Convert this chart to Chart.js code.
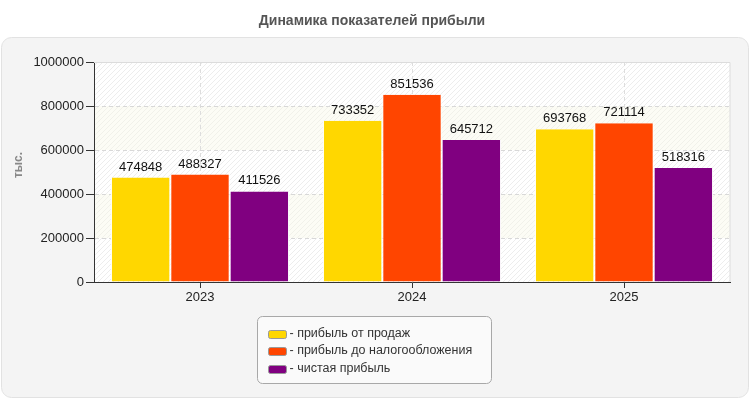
<!DOCTYPE html>
<html lang="ru">
<head>
<meta charset="utf-8">
<title>Динамика показателей прибыли</title>
<script src="https://cdn.jsdelivr.net/npm/chart.js@4.4.1/dist/chart.umd.min.js"></script>
<style>
  html, body { margin: 0; padding: 0; background: #fff; }
  #wrap { width: 750px; height: 400px; position: relative; }
</style>
</head>
<body>
<div id="wrap"><canvas id="profitChart"></canvas></div>
<script>
"use strict";

// --- Данные ------------------------------------------------------------------

const YEARS = ["2023", "2024", "2025"];
const SALES_PROFIT = [474848, 733352, 693768];
const PRETAX_PROFIT = [488327, 851536, 721114];
const NET_PROFIT = [411526, 645712, 518316];
const SERIES_NAMES = ["прибыль от продаж", "прибыль до налогообложения", "чистая прибыль"];
const COLORS = ["#ffd700", "#ff4500", "#800080"];
const TITLE = "Динамика показателей прибыли";
const Y_TITLE = "тыс.";

const FONT = "'Liberation Sans', Arial, sans-serif";

// --- Плагины -----------------------------------------------------------------

function roundRect(ctx, x, y, w, h, r) {
  ctx.beginPath();
  ctx.moveTo(x + r, y);
  ctx.arcTo(x + w, y, x + w, y + h, r);
  ctx.arcTo(x + w, y + h, x, y + h, r);
  ctx.arcTo(x, y + h, x, y, r);
  ctx.arcTo(x, y, x + w, y, r);
  ctx.closePath();
}

// штриховка фона: base - цвет полосы, line - цвет линий
function hatchPattern(ctx, base, line) {
  const c = document.createElement("canvas");
  c.width = 5; c.height = 5;
  const g = c.getContext("2d");
  g.fillStyle = base;
  g.fillRect(0, 0, 5, 5);
  g.strokeStyle = line;
  g.lineWidth = 1;
  g.beginPath();
  g.moveTo(0, 5); g.lineTo(5, 0);
  g.moveTo(-1, 1); g.lineTo(1, -1);
  g.moveTo(4, 6); g.lineTo(6, 4);
  g.stroke();
  return ctx.createPattern(c, "repeat");
}

const backdrop = {
  id: "backdrop",
  beforeDraw(chart) {
    const { ctx, chartArea: a, scales } = chart;
    ctx.save();
    // заголовок
    ctx.fillStyle = "#555";
    ctx.font = `bold 14px ${FONT}`;
    ctx.textAlign = "center";
    ctx.textBaseline = "middle";
    ctx.fillText(TITLE, 372, 21);
    // панель
    roundRect(ctx, 1.5, 37.5, 747, 360, 10);
    ctx.fillStyle = "#f4f4f4";
    ctx.fill();
    ctx.strokeStyle = "#e2e2e2";
    ctx.lineWidth = 1;
    ctx.stroke();
    // полосы фона
    const ticks = scales.y.ticks;
    const white = hatchPattern(ctx, "#ffffff", "#ededed");
    const cream = hatchPattern(ctx, "#fcfcf5", "#f1f1ea");
    for (let i = 0; i < ticks.length - 1; i++) {
      const y1 = scales.y.getPixelForValue(ticks[i].value);
      const y2 = scales.y.getPixelForValue(ticks[i + 1].value);
      ctx.fillStyle = i % 2 === 0 ? white : cream;
      ctx.fillRect(a.left, y2, a.right - a.left, y1 - y2);
    }
    // подпись оси Y
    ctx.translate(19, (a.top + a.bottom) / 2 - 7);
    ctx.rotate(-Math.PI / 2);
    ctx.fillStyle = "#888";
    ctx.font = `bold 12px ${FONT}`;
    ctx.fillText(Y_TITLE, 0, 0);
    ctx.restore();
  },
  beforeDatasetsDraw(chart) {
    const { ctx, chartArea: a } = chart;
    ctx.save();
    ctx.strokeStyle = "#dcdcdc";
    ctx.lineWidth = 1;
    ctx.beginPath();
    ctx.moveTo(a.left, Math.round(a.top) + 0.5);
    ctx.lineTo(a.right, Math.round(a.top) + 0.5);
    ctx.lineTo(a.right, a.bottom);
    ctx.stroke();
    ctx.restore();
  },
};

const valueLabels = {
  id: "valueLabels",
  afterDatasetsDraw(chart) {
    const { ctx } = chart;
    ctx.save();
    ctx.fillStyle = "#111";
    ctx.font = `13px ${FONT}`;
    ctx.textAlign = "center";
    ctx.textBaseline = "alphabetic";
    chart.data.datasets.forEach((ds, di) => {
      chart.getDatasetMeta(di).data.forEach((bar, i) => {
        ctx.fillText(String(ds.data[i]), bar.x, bar.y - 7);
      });
    });
    ctx.restore();
  },
};

const boxLegend = {
  id: "boxLegend",
  afterDraw(chart) {
    const { ctx } = chart;
    const ds = chart.data.datasets;
    ctx.save();
    ctx.font = `12.5px ${FONT}`;
    const labels = ds.map((d) => "- " + d.label);
    const w = 234;
    const h = 67;
    const x = 257.5;
    const y = 316.5;
    roundRect(ctx, x, y, w, h, 5);
    ctx.fillStyle = "#fafafa";
    ctx.fill();
    ctx.strokeStyle = "#a8a8a8";
    ctx.stroke();
    ctx.textBaseline = "middle";
    ctx.textAlign = "left";
    labels.forEach((t, i) => {
      const cy = y + 17 + i * 17.5;
      roundRect(ctx, x + 11, Math.round(cy - 4) + 0.5, 18, 8, 2);
      ctx.fillStyle = ds[i].backgroundColor;
      ctx.fill();
      ctx.strokeStyle = "#999";
      ctx.stroke();
      ctx.fillStyle = "#333";
      ctx.fillText(t, x + 32, cy);
    });
    ctx.restore();
  },
};

// --- График ------------------------------------------------------------------

const seriesData = [SALES_PROFIT, PRETAX_PROFIT, NET_PROFIT];

new Chart(document.getElementById("profitChart"), {
  type: "bar",
  data: {
    labels: YEARS,
    datasets: seriesData.map((data, i) => ({
      label: SERIES_NAMES[i],
      data,
      backgroundColor: COLORS[i],
      borderColor: "#ffffff",
      borderWidth: { left: 1, right: 1, top: 0, bottom: 0 },
      borderSkipped: false,
      categoryPercentage: 0.84,
      barPercentage: 1,
    })),
  },
  options: {
    responsive: true,
    maintainAspectRatio: false,
    animation: false,
    devicePixelRatio: 1,
    layout: { padding: { left: 0, right: 20, top: 62, bottom: 88 } },
    plugins: {
      legend: { display: false },
      title: { display: false },
      tooltip: { enabled: false },
    },
    scales: {
      x: {
        afterFit: (s) => { s.height = 30; },
        grid: {
          offset: false,
          color: "#dddddd",
          tickColor: "#333",
          tickLength: 6,
        },
        border: { color: "#333", width: 1, dash: [4, 3] },
        ticks: { color: "#222", font: { family: FONT, size: 13 }, padding: 2 },
      },
      y: {
        min: 0,
        max: 1000000,
        afterFit: (s) => { s.width = 94; },
        grid: { color: "#d8d8d8", tickColor: "#333", tickLength: 8 },
        border: { color: "#333", width: 1, dash: [4, 3] },
        ticks: {
          stepSize: 200000,
          color: "#222",
          font: { family: FONT, size: 13 },
          padding: 2,
          callback: (v) => String(v),
        },
      },
    },
  },
  plugins: [backdrop, valueLabels, boxLegend],
});
</script>
</body>
</html>
